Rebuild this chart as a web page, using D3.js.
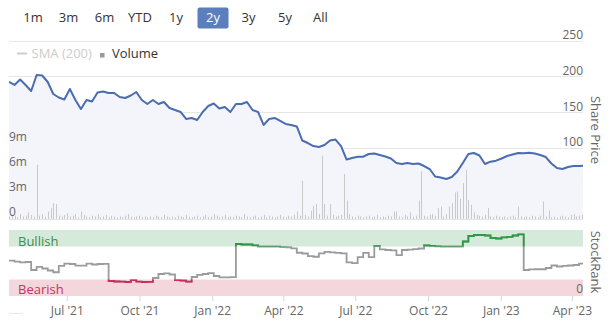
<!DOCTYPE html>
<html>
<head>
<meta charset="utf-8">
<script src="https://cdn.jsdelivr.net/npm/d3@7"></script>
<style>
  body { margin: 0; background: #fff; }
  svg { display: block; font-family: "Open Sans", "Noto Sans", sans-serif; }
</style>
</head>
<body>
<svg id="chart" width="609" height="325"></svg>
<script>
// ---- data -------------------------------------------------------------
const rangeButtons = ["1m", "3m", "6m", "YTD", "1y", "2y", "3y", "5y", "All"];
const selectedRange = "2y";

const seriesStart = new Date(2021, 3, 19);   // first weekly close
const axisEnd = new Date(2023, 3, 15);

// weekly closing share price
const priceWeekly = [
  191.9, 187.7, 195.4, 187.7, 179.3, 201.7, 201.0, 191.9, 175.1, 170.2,
  167.4, 182.1, 166.7, 154.1, 166.7, 164.6, 177.2, 178.6, 176.5, 176.5,
  170.9, 169.5, 173.0, 177.9, 166.7, 161.1, 166.7, 161.1, 163.9, 155.5,
  152.7, 149.9, 140.1, 141.5, 138.7, 149.9, 158.3, 161.8, 154.8, 156.9,
  149.9, 161.1, 161.1, 163.9, 152.7, 149.9, 131.7, 140.1, 141.5, 137.3,
  133.1, 131.7, 129.6, 109.9, 106.4, 102.2, 100.8, 103.6, 109.9, 111.3,
  102.2, 83.3, 85.4, 87.3, 87.3, 91.0, 91.7, 89.6, 87.5, 84.7,
  78.4, 77.0, 78.4, 77.0, 77.7, 74.2, 70.0, 59.5, 58.1, 56.0,
  58.8, 66.5, 78.4, 91.0, 92.4, 88.9, 77.0, 80.3, 81.7, 84.7,
  88.2, 90.3, 92.4, 92.0, 92.9, 91.7, 89.6, 86.8, 77.7, 71.4,
  70.0, 72.8, 74.2, 74.2, 74.9
];

// weekly StockRank (0-100)
const stockRankWeekly = [
  53.5, 52, 51, 51.5, 39.4, 44, 41.7, 38.6, 36, 45.5,
  49, 48.5, 46, 46, 49, 47.7, 48.5, 48.8, 22.7, 22,
  21.7, 21.2, 24.2, 21.7, 21.2, 21.5, 27.3, 33.3, 34.4, 32.6,
  24.2, 23.5, 21.7, 28.8, 32, 33.3, 34.8, 30.3, 28.3, 28.3,
  28.5, 78.8, 78, 78, 76.8, 74.8, 74.7, 74.7, 74.7, 74.2,
  73.8, 72.3, 65.5, 64.4, 60.3, 59.5, 64.7, 67, 66, 65.2,
  64.7, 50.8, 49.7, 59, 65.2, 59, 75.5, 70.5, 69.7, 69.2,
  62, 69.7, 70.2, 70.9, 72, 76.5, 76, 75.2, 74.7, 74.7,
  74.8, 74.8, 82.6, 90.9, 92.4, 92.4, 91.7, 87.9, 87.1, 88.9,
  89.7, 91.7, 93.5, 39.4, 40.2, 40.5, 40.5, 42.4, 46.2, 44.7,
  45.5, 46.2, 47, 49.2, 50.5
];

// traded volume in millions, one value per half week
const volumeHalfWeekly = [
  0.3, 0.5, 0.4, 0.2, 0.6, 0.3, 0.4, 0.8, 0.5, 0.3,
  6.5, 0.4, 0.6, 0.3, 0.9, 1.3, 1.9, 1.8, 0.4, 0.3,
  0.5, 0.7, 0.3, 0.4, 0.6, 0.2, 0.9, 0.5, 0.3, 0.2,
  0.4, 0.3, 0.6, 0.2, 0.3, 0.5, 0.2, 0.4, 0.3, 0.2,
  0.3, 0.2, 0.4, 0.6, 0.3, 0.2, 0.3, 0.4, 0.2, 0.3,
  0.2, 0.3, 0.2, 0.4, 0.3, 0.2, 0.5, 0.3, 0.2, 0.3,
  0.2, 0.4, 0.3, 0.2, 0.5, 0.3, 0.2, 0.3, 0.4, 0.2,
  0.3, 0.5, 0.2, 0.3, 0.6, 0.4, 0.2, 0.3, 0.5, 0.2,
  0.3, 0.2, 0.4, 0.3, 0.2, 0.6, 0.3, 0.2, 0.3, 0.4,
  0.2, 0.3, 0.5, 0.2, 0.4, 0.3, 0.2, 0.3, 0.5, 0.3,
  0.2, 0.4, 0.3, 0.5, 0.9, 0.4, 4.6, 0.5, 0.3, 1.0,
  1.6, 1.8, 0.6, 7.6, 1.8, 0.4, 1.8, 0.5, 0.3, 0.4,
  0.5, 5.4, 2.2, 0.6, 0.3, 0.2, 0.4, 0.3, 0.2, 0.3,
  0.4, 0.2, 0.3, 0.5, 0.2, 0.3, 0.2, 0.4, 0.3, 0.9,
  0.9, 0.3, 0.2, 0.5, 0.3, 0.8, 0.3, 0.4, 2.2, 5.7,
  0.4, 0.3, 0.5, 0.6, 0.4, 1.3, 1.5, 0.3, 0.6, 1.5,
  1.9, 3.2, 3.3, 2.4, 4.3, 5.9, 2.3, 1.7, 0.8, 0.5,
  0.4, 0.3, 0.5, 1.3, 0.3, 0.2, 0.4, 0.3, 0.2, 0.3,
  0.2, 0.3, 0.4, 0.2, 1.5, 0.3, 0.2, 0.3, 0.2, 0.4,
  0.3, 0.2, 0.4, 2.1, 0.3, 1.0, 0.2, 0.3, 0.2, 0.3,
  0.4, 0.3, 0.2, 0.5, 0.6, 0.3, 0.4, 0.5, 0.3
];

const priceTicks = [0, 50, 100, 150, 200, 250];
const priceTickLabels = ["0.00", "50", "100", "150", "200", "250"];
const volumeTicks = [0, 3, 6, 9];
const volumeTickLabels = ["0", "3m", "6m", "9m"];
const dateTicks = [
  new Date(2021, 6, 1), new Date(2021, 9, 1), new Date(2022, 0, 1), new Date(2022, 3, 1),
  new Date(2022, 6, 1), new Date(2022, 9, 1), new Date(2023, 0, 1), new Date(2023, 3, 1)
];
const rankZones = { bearish: 25, bullish: 75 };

// ---- build rows -------------------------------------------------------
const priceRows = priceWeekly.map((v, i) => ({ date: d3.timeDay.offset(seriesStart, i * 7), value: v }));
const rankRows = stockRankWeekly.map((v, i) => ({ date: d3.timeDay.offset(seriesStart, i * 7), value: v }));
const volumeRows = volumeHalfWeekly.map((v, i) => ({ date: d3.timeHour.offset(seriesStart, i * 84), value: v }));

// ---- layout -----------------------------------------------------------
const left = 9, right = 583;
const priceTop = 40.5, priceBottom = 219;
const rankTop = 230, rankBottom = 296;

const svg = d3.select("#chart");

const x = d3.scaleTime().domain([seriesStart, axisEnd]).range([left, right]);
const yPrice = d3.scaleLinear().domain([0, 250]).range([priceBottom, priceTop]);
const yVol = d3.scaleLinear().domain([0, 9]).range([priceBottom, 144]);
const yRank = d3.scaleLinear().domain([0, 100]).range([rankBottom, rankTop]);

const defs = svg.append("defs");
defs.append("clipPath").attr("id", "plotClip")
  .append("rect").attr("x", left).attr("y", 0).attr("width", right - left).attr("height", 325);
defs.append("clipPath").attr("id", "bullClip")
  .append("rect").attr("x", left).attr("y", 0).attr("width", right - left).attr("height", yRank(rankZones.bullish));
defs.append("clipPath").attr("id", "bearClip")
  .append("rect").attr("x", left).attr("y", yRank(rankZones.bearish)).attr("width", right - left)
  .attr("height", 325 - yRank(rankZones.bearish));

// ---- range selector ---------------------------------------------------
const btnCenters = [33, 68.5, 104.5, 140, 176, 213, 248.5, 285, 320.5];
const btn = svg.append("g").selectAll("g").data(rangeButtons).join("g")
  .attr("transform", (d, i) => `translate(${btnCenters[i]},0)`);
btn.filter(d => d === selectedRange).append("rect")
  .attr("x", -15.5).attr("y", 7.5)
  .attr("width", 31).attr("height", 21).attr("rx", 2)
  .attr("fill", "#5b7ebd");
btn.append("text")
  .attr("x", 0).attr("y", 17.5).attr("dy", "0.35em")
  .attr("text-anchor", "middle").attr("font-size", 13)
  .attr("fill", d => d === selectedRange ? "#fff" : "#333")
  .text(d => d);

// ---- legend -----------------------------------------------------------
svg.append("line").attr("x1", 17).attr("x2", 27).attr("y1", 53.5).attr("y2", 53.5)
  .attr("stroke", "#cccccc").attr("stroke-width", 2);
svg.append("text").attr("x", 31.5).attr("y", 53).attr("dy", "0.35em")
  .attr("font-size", 13).attr("fill", "#cccccc").text("SMA (200)");
svg.append("rect").attr("x", 100).attr("y", 53).attr("width", 4.5).attr("height", 4.5).attr("fill", "#9a9a9a");
svg.append("text").attr("x", 112).attr("y", 53).attr("dy", "0.35em")
  .attr("font-size", 13).attr("fill", "#333").text("Volume");

// ---- price gridlines and labels ----------------------------------------
svg.append("g").selectAll("line").data(priceTicks).join("line")
  .attr("x1", left).attr("x2", right)
  .attr("y1", d => Math.round(yPrice(d)) + 0.5).attr("y2", d => Math.round(yPrice(d)) + 0.5)
  .attr("stroke", "#e6e6e6").attr("stroke-width", 1);
svg.append("g").selectAll("text").data(priceTicks).join("text")
  .attr("x", right).attr("y", d => yPrice(d) - 5.5).attr("dy", "0.35em")
  .attr("text-anchor", "end").attr("font-size", 12).attr("fill", "#666")
  .text((d, i) => priceTickLabels[i]);

svg.append("text")
  .attr("transform", `translate(596,130) rotate(90)`)
  .attr("text-anchor", "middle").attr("dy", "0.35em")
  .attr("font-size", 13).attr("fill", "#666").text("Share Price");

// ---- price area, volume, line ------------------------------------------
const plot = svg.append("g").attr("clip-path", "url(#plotClip)");

plot.append("path").datum(priceRows)
  .attr("fill", "#f3f5fb")
  .attr("d", d3.area().x(d => x(d.date)).y0(priceBottom).y1(d => yPrice(d.value)));

plot.append("g").selectAll("line").data(volumeRows).join("line")
  .attr("x1", d => Math.round(x(d.date)) + 0.5).attr("x2", d => Math.round(x(d.date)) + 0.5)
  .attr("y1", priceBottom).attr("y2", d => yVol(d.value))
  .attr("stroke", "#c9c9c9").attr("stroke-width", 1);

plot.append("path").datum(priceRows)
  .attr("fill", "none").attr("stroke", "#4a6cb0").attr("stroke-width", 2)
  .attr("stroke-linejoin", "round")
  .attr("d", d3.line().x(d => x(d.date)).y(d => yPrice(d.value)));

// volume labels on the left
svg.append("g").selectAll("text").data(volumeTicks).join("text")
  .attr("x", left).attr("y", d => yVol(d) - 7).attr("dy", "0.35em")
  .attr("font-size", 12).attr("fill", "#666")
  .text((d, i) => volumeTickLabels[i]);

// ---- StockRank panel ---------------------------------------------------
svg.append("rect").attr("x", left).attr("width", right - left)
  .attr("y", yRank(100)).attr("height", yRank(rankZones.bullish) - yRank(100))
  .attr("fill", "#d6eadb");
svg.append("rect").attr("x", left).attr("width", right - left)
  .attr("y", yRank(rankZones.bearish)).attr("height", yRank(0) - yRank(rankZones.bearish))
  .attr("fill", "#f3d7dd");

svg.append("text").attr("x", 18).attr("y", 241).attr("dy", "0.35em")
  .attr("font-size", 13).attr("fill", "#3f8c50").text("Bullish");
svg.append("text").attr("x", 18).attr("y", 289).attr("dy", "0.35em")
  .attr("font-size", 13).attr("fill", "#c8335f").text("Bearish");
svg.append("text").attr("x", right).attr("y", 289).attr("dy", "0.35em")
  .attr("text-anchor", "end").attr("font-size", 12).attr("fill", "#666").text("0");

const rankLine = d3.line().curve(d3.curveStepAfter)
  .x(d => x(d.date)).y(d => yRank(d.value));
const rankG = svg.append("g").attr("clip-path", "url(#plotClip)");
rankG.append("path").datum(rankRows)
  .attr("fill", "none").attr("stroke", "#9b9b9b").attr("stroke-width", 1.8).attr("d", rankLine);
rankG.append("g").attr("clip-path", "url(#bullClip)").append("path").datum(rankRows)
  .attr("fill", "none").attr("stroke", "#2f9a45").attr("stroke-width", 1.8).attr("d", rankLine);
rankG.append("g").attr("clip-path", "url(#bearClip)").append("path").datum(rankRows)
  .attr("fill", "none").attr("stroke", "#d02b5c").attr("stroke-width", 1.8).attr("d", rankLine);

svg.append("text")
  .attr("transform", `translate(596,262) rotate(90)`)
  .attr("text-anchor", "middle").attr("dy", "0.35em")
  .attr("font-size", 13).attr("fill", "#666").text("StockRank");

// ---- date axis --------------------------------------------------------
const xAxis = d3.axisBottom(x).tickValues(dateTicks)
  .tickFormat(d3.timeFormat("%b '%y")).tickSize(5).tickPadding(5);
const axisG = svg.append("g").attr("transform", `translate(0,${rankBottom})`).call(xAxis);
axisG.select(".domain").remove();
axisG.selectAll(".tick line").attr("stroke", "#ccd6eb");
axisG.selectAll(".tick text").attr("font-size", 12).attr("fill", "#666")
  .attr("font-family", "\"Open Sans\", sans-serif");

svg.append("line").attr("x1", left).attr("x2", 23).attr("y1", 313.5).attr("y2", 313.5)
  .attr("stroke", "#e6e6e6");
</script>
</body>
</html>
